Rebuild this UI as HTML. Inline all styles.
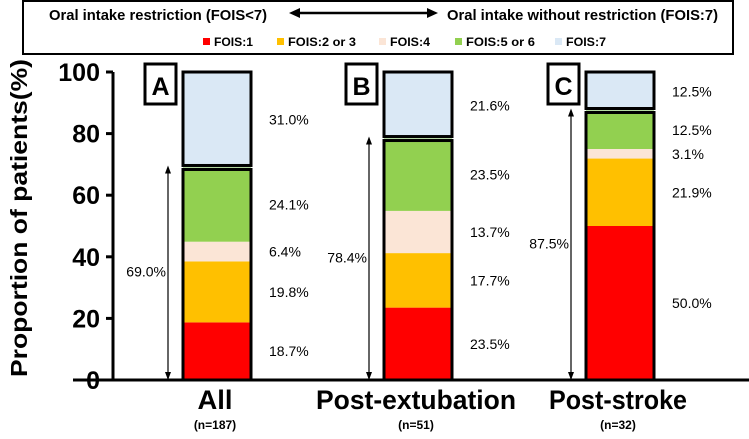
<!DOCTYPE html>
<html><head><meta charset="utf-8"><style>
body{margin:0;background:#fff;}
svg text{font-family:"Liberation Sans",Arial,sans-serif;}
.b{font-weight:bold;}
</style></head><body>
<svg id="c" width="749" height="434" viewBox="0 0 749 434" xmlns="http://www.w3.org/2000/svg">
<g>
<rect x="23" y="1" width="710" height="53" fill="#fff" stroke="#000" stroke-width="2"/>
<text x="49" y="20" font-size="15" class="b" textLength="218" lengthAdjust="spacingAndGlyphs">Oral intake restriction (FOIS&lt;7)</text>
<line x1="296" y1="13" x2="432" y2="13" stroke="#000" stroke-width="2.5"/>
<polygon points="289,13 300,8 300,18" fill="#000"/><polygon points="438,13 427,8 427,18" fill="#000"/>
<text x="447" y="20" font-size="15" class="b" textLength="271" lengthAdjust="spacingAndGlyphs">Oral intake without restriction (FOIS:7)</text>
<g id="leg"></g>
</g>
<g id="plot"></g>
</svg>
<script>
const categories=["All","Post-extubation","Post-stroke"];
const nLabels=["(n=187)","(n=51)","(n=32)"];
const panelLetters=["A","B","C"];
const seriesNames=["FOIS:1","FOIS:2 or 3","FOIS:4","FOIS:5 or 6","FOIS:7"];
const fois1=[18.7,23.5,50.0];
const fois23=[19.8,17.7,21.9];
const fois4=[6.4,13.7,3.1];
const fois56=[24.1,23.5,12.5];
const fois7=[31.0,21.6,12.5];
const restricted=[69.0,78.4,87.5];
const yTicks=[0,20,40,60,80,100];
const colors=["#ff0000","#ffc000","#fbe5d6","#92d050","#dae8f5"];
const series=[fois1,fois23,fois4,fois56,fois7];
const NS="http://www.w3.org/2000/svg";
const plot=document.getElementById('plot'),leg=document.getElementById('leg');
function mk(t,a,p){const e=document.createElementNS(NS,t);for(const k in a)e.setAttribute(k,a[k]);(p||plot).appendChild(e);return e;}
const y0=380,y1=72;
function y(v){return y0-(y0-y1)*v/100;}
const barX=[183,384,586],barW=68;
const legX=[203,277,379,455,555],legW=[39,68,40,69,40];
seriesNames.forEach((n,i)=>{
 const r=mk('rect',{x:legX[i],y:38,width:7,height:7,fill:colors[i]},leg);
 
 
 const t=mk('text',{x:legX[i]+11,y:46,'font-size':12,class:'b',textLength:legW[i],lengthAdjust:'spacingAndGlyphs'},leg);t.textContent=n;
 
 
});
const ax=mk('line',{x1:113,y1:y1,x2:113,y2:y0,stroke:'#000','stroke-width':3});


const xa=mk('line',{x1:73,y1:y0,x2:749,y2:y0,stroke:'#000','stroke-width':3});


yTicks.forEach(v=>{
 mk('line',{x1:106,y1:y(v),x2:113,y2:y(v),stroke:'#000','stroke-width':3});
 const t=mk('text',{x:100,y:y(v)+9,'font-size':25,class:'b','text-anchor':'end'});t.textContent=v;
 
 
});
const yt=mk('text',{x:0,y:0,'font-size':23,class:'b','text-anchor':'middle',textLength:318,lengthAdjust:'spacingAndGlyphs',transform:'translate(27,218) rotate(-90)'});
yt.textContent='Proportion of patients(%)';


const catW=[35,200,138];
categories.forEach((c,i)=>{
 const bx=barX[i];let cum=0;
 series.forEach((s,j)=>{
  const v=s[i];const top=y(cum+v),bot=y(cum);
  const r=mk('rect',{x:bx,y:top,width:barW,height:bot-top,fill:colors[j]});
  
  
  const t=mk('text',{x:bx+barW+18,y:(top+bot)/2+5,'font-size':14});t.textContent=v.toFixed(1)+'%';
  
  
  cum+=v;
 });
 const r7=restricted[i];
 mk('rect',{x:bx,y:y(r7)+2,width:barW,height:y(0)-y(r7)-2,fill:'none',stroke:'#000','stroke-width':3});
 mk('rect',{x:bx,y:y(100),width:barW,height:y(r7)-y(100)-2,fill:'none',stroke:'#000','stroke-width':3});
 const axx=bx-15;
 const ar=mk('line',{x1:axx,y1:y(0),x2:axx,y2:y(r7),stroke:'#000','stroke-width':1.2});
 
 
 mk('polygon',{points:`${axx},${y(r7)-2} ${axx-3},${y(r7)+6} ${axx+3},${y(r7)+6}`});
 mk('polygon',{points:`${axx},${y(0)} ${axx-3},${y(0)-8} ${axx+3},${y(0)-8}`});
 const rl=mk('text',{x:axx-2,y:(y(0)+y(r7))/2+3,'font-size':14,'text-anchor':'end'});rl.textContent=r7.toFixed(1)+'%';
 
 
 const lb=mk('rect',{x:bx-38,y:64,width:31,height:40,fill:'#fff',stroke:'#000','stroke-width':3});
 
 
 const lt=mk('text',{x:bx-22.5,y:95,'font-size':25,class:'b','text-anchor':'middle'});lt.textContent=panelLetters[i];
 
 
 const ct=mk('text',{x:bx+barW/2-2,y:409,'font-size':27,class:'b','text-anchor':'middle',textLength:catW[i],lengthAdjust:'spacingAndGlyphs'});ct.textContent=c;
 
 
 const nt=mk('text',{x:bx+barW/2-2,y:429,'font-size':12,class:'b','text-anchor':'middle'});nt.textContent=nLabels[i];
 
 
});
</script>
</body></html>
